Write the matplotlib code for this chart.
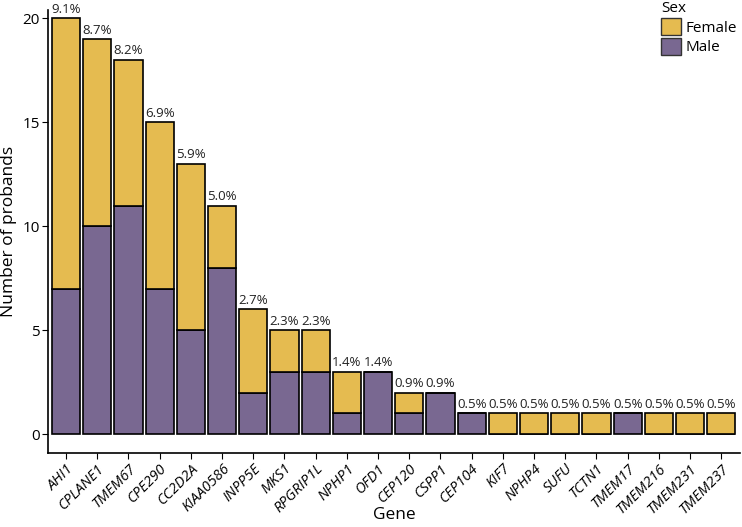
import numpy as np
import matplotlib
matplotlib.use('Agg')
import matplotlib.pyplot as plt
from matplotlib.patches import Patch

plt.rcParams['font.family'] = ['Open Sans', 'DejaVu Sans']

genes = ['AHI1', 'CPLANE1', 'TMEM67', 'CPE290', 'CC2D2A', 'KIAA0586', 'INPP5E',
         'MKS1', 'RPGRIP1L', 'NPHP1', 'OFD1', 'CEP120', 'CSPP1', 'CEP104', 'KIF7',
         'NPHP4', 'SUFU', 'TCTN1', 'TMEM17', 'TMEM216', 'TMEM231', 'TMEM237']
male = [7, 10, 11, 7, 5, 8, 2, 3, 3, 1, 3, 1, 2, 1, 0, 0, 0, 0, 1, 0, 0, 0]
female = [13, 9, 7, 8, 8, 3, 4, 2, 2, 2, 0, 1, 0, 0, 1, 1, 1, 1, 0, 1, 1, 1]
pct_labels = ['9.1%', '8.7%', '8.2%', '6.9%', '5.9%', '5.0%', '2.7%', '2.3%', '2.3%',
              '1.4%', '1.4%', '0.9%', '0.9%', '0.5%', '0.5%', '0.5%', '0.5%', '0.5%',
              '0.5%', '0.5%', '0.5%', '0.5%']

c_female = '#E5BB50'
c_male = '#796891'

fig = plt.figure(figsize=(7.42, 5.27), dpi=100)
ax = fig.add_axes([48 / 742, 74 / 527, 692 / 742, 443 / 527])

x = np.arange(len(genes))
male = np.array(male)
female = np.array(female)
ax.bar(x, male, width=0.9, color=c_male, edgecolor='black', linewidth=1.2)
ax.bar(x, female, width=0.9, bottom=male, color=c_female, edgecolor='black', linewidth=1.2)

total = male + female
for xi, t, lab in zip(x, total, pct_labels):
    ax.text(xi, t + 0.12, lab, ha='center', va='bottom', fontsize=9.5, color='#222222')

ax.set_xlim(-0.58, 21.6)
ax.set_ylim(-0.9, 20.4)
ax.set_yticks([0, 5, 10, 15, 20])
ax.set_xticks(x)
ax.set_xticklabels(genes, rotation=45, ha='right', rotation_mode='anchor',
                   fontstyle='italic', fontsize=10.5)
ax.tick_params(axis='y', labelsize=11, length=4, color='black', pad=2)
ax.tick_params(axis='x', length=4, color='black', pad=2)
for s in ['top', 'right']:
    ax.spines[s].set_visible(False)
for s in ['left', 'bottom']:
    ax.spines[s].set_linewidth(1.2)

ax.set_xlabel('Gene', fontsize=12.5, labelpad=-7)
ax.set_ylabel('Number of probands', fontsize=12.5, labelpad=4)

handles = [Patch(facecolor=c_female, edgecolor='#333333', label='Female'),
           Patch(facecolor=c_male, edgecolor='#333333', label='Male')]
leg = fig.legend(handles=handles, title='Sex', loc='upper left',
                 bbox_to_anchor=(655 / 742, 1.01), frameon=False, fontsize=11,
                 title_fontsize=11, handlelength=1.3, handleheight=1.3,
                 handletextpad=0.3, labelspacing=0.15, borderaxespad=0)
leg._legend_box.align = 'left'

fig.savefig('out.png', dpi=100)
